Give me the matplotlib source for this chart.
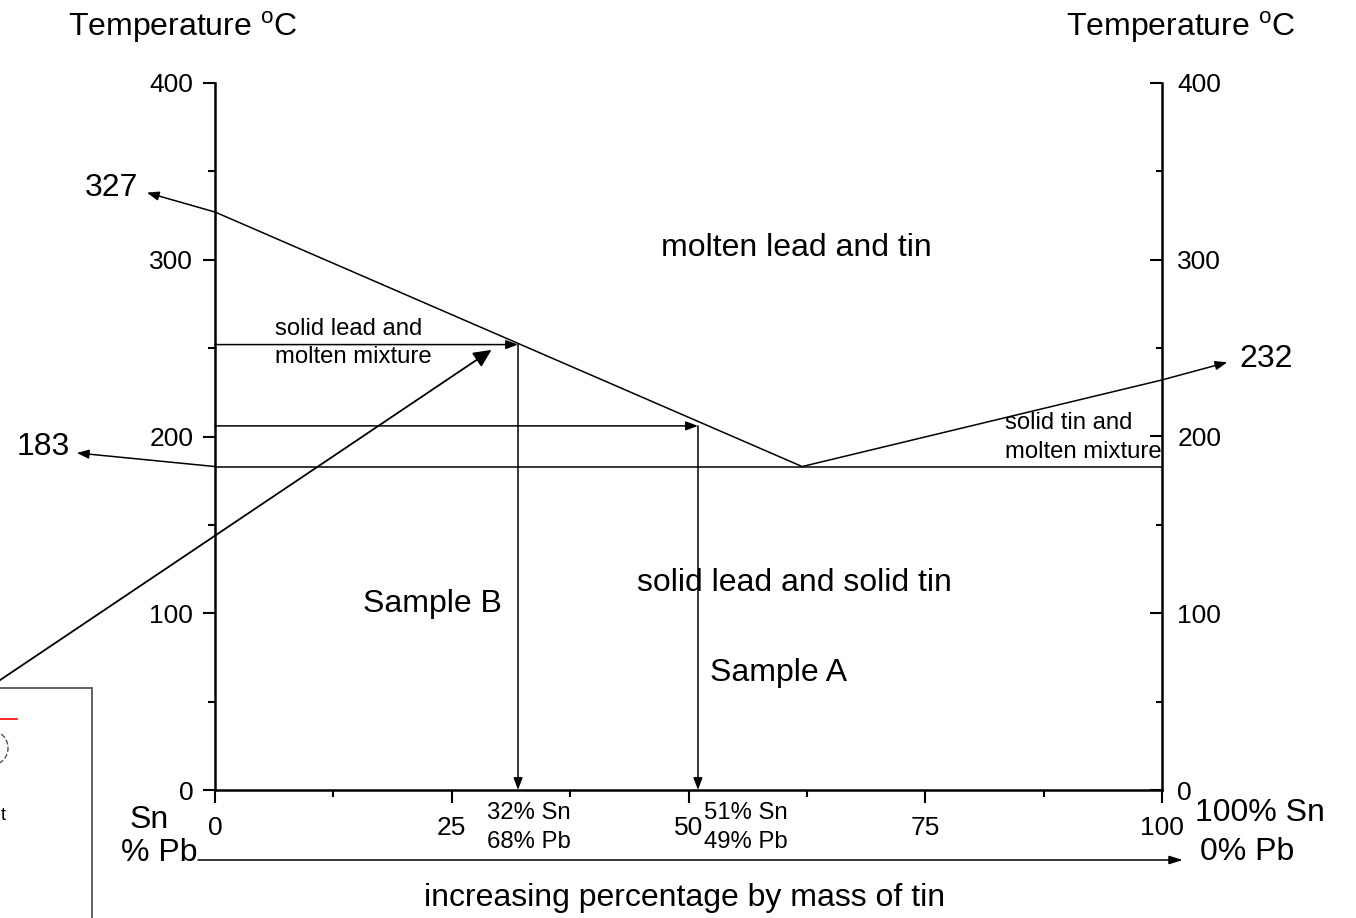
import numpy as np
import matplotlib
matplotlib.use('Agg')
import matplotlib.pyplot as plt
from matplotlib.patches import Rectangle, Ellipse
from matplotlib.lines import Line2D

plt.rcParams['font.family'] = ['Liberation Sans', 'DejaVu Sans']
plt.rcParams['mathtext.fontset'] = 'custom'
plt.rcParams['mathtext.rm'] = 'Liberation Sans'

# liquidus of the lead-tin system: pure Pb -> eutectic -> pure Sn
liq_sn = [0, 62, 100]
liq_t = [327, 183, 232]
eutectic_t = 183

# the two cooled samples: % tin, temperature where solid starts to form
sample_names = ['Sample B', 'Sample A']
sample_sn = [32, 51]
sample_pb = [68, 49]
sample_t = [252, 206]

x_ticks = [0, 25, 50, 75, 100]
y_ticks = [0, 100, 200, 300, 400]

BIG = 23
MID = 19
SMALL = 17.2

W, H = 1356, 918
fig = plt.figure(figsize=(W / 100, H / 100), dpi=100)
ax = fig.add_axes([215 / W, 128 / H, 947 / W, 707 / H])
ax.set_xlim(0, 100)
ax.set_ylim(0, 400)
ax.spines['top'].set_visible(False)
ax.spines['right'].set_visible(False)
for s in ('left', 'bottom'):
    ax.spines[s].set_linewidth(1.8)

ax.set_xticks(x_ticks)
ax.set_xticks(np.arange(12.5, 100, 25), minor=True)
ax.set_yticks(y_ticks)
ax.set_yticks(np.arange(50, 400, 100), minor=True)
ax.tick_params(axis='both', which='major', direction='out', width=1.5, labelsize=MID)
ax.tick_params(axis='x', which='major', length=9.5, pad=9)
ax.tick_params(axis='x', which='minor', length=5, width=1.5)
ax.tick_params(axis='y', which='major', length=8.6, pad=7)
ax.tick_params(axis='y', which='minor', length=5, width=1.5, direction='out')

# right hand temperature scale, ticks pointing into the plot
ax2 = ax.twinx()
ax2.set_ylim(0, 400)
for s in ('top', 'left', 'bottom'):
    ax2.spines[s].set_visible(False)
ax2.spines['right'].set_linewidth(1.8)
ax2.set_yticks(y_ticks)
ax2.set_yticks(np.arange(50, 400, 100), minor=True)
ax2.tick_params(axis='y', which='major', direction='in', length=8.6, width=1.5,
                labelsize=MID, pad=11)
ax2.tick_params(axis='y', which='minor', direction='in', length=4.5, width=1.5)

lw = 1.1
ax.plot(liq_sn, liq_t, color='k', lw=lw, clip_on=False)
ax.plot([0, 100], [eutectic_t, eutectic_t], color='k', lw=lw, clip_on=False)

small_head = dict(arrowstyle='-|>,head_length=0.4,head_width=0.15', color='k',
                  lw=lw, mutation_scale=18, shrinkA=0, shrinkB=0)
big_head = dict(arrowstyle='-|>,head_length=0.4,head_width=0.19', color='k',
                lw=1.3, mutation_scale=27, shrinkA=0, shrinkB=0)

# each sample: across to the liquidus, then down to its composition
for sn, t in zip(sample_sn, sample_t):
    ax.annotate('', xy=(sn, t), xytext=(0, t), arrowprops=small_head,
                annotation_clip=False)
    ax.annotate('', xy=(sn, 0), xytext=(sn, t), arrowprops=small_head,
                annotation_clip=False)

# melting point call-outs
ax.annotate('', xy=(-7.2, 338), xytext=(0, liq_t[0]), arrowprops=small_head,
            annotation_clip=False)
ax.text(-8.1, 340.6, str(liq_t[0]), fontsize=BIG, ha='right', va='center')
ax.annotate('', xy=(-14.6, 190.7), xytext=(0, eutectic_t), arrowprops=small_head,
            annotation_clip=False)
ax.text(-15.3, 194, str(liq_t[1]), fontsize=BIG, ha='right', va='center')
ax.annotate('', xy=(106.9, 242), xytext=(100, liq_t[2]), arrowprops=small_head,
            annotation_clip=False)
ax.text(108.2, 243.8, str(liq_t[2]), fontsize=BIG, ha='left', va='center')

# long pointer into the two-phase region
ax.annotate('', xy=(29.2, 249), xytext=(-29, 39.5), arrowprops=big_head,
            annotation_clip=False)

# region labels
ax.text(61.4, 306.6, 'molten lead and tin', fontsize=BIG, ha='center', va='center')
ax.text(61.2, 117, 'solid lead and solid tin', fontsize=BIG, ha='center', va='center')
ax.text(6.3, 252.8, 'solid lead and\nmolten mixture', fontsize=SMALL,
        ha='left', va='center', linespacing=1.39)
ax.text(83.4, 199.6, 'solid tin and\nmolten mixture', fontsize=SMALL,
        ha='left', va='center', linespacing=1.39)
ax.text(23.0, 105, sample_names[0], fontsize=BIG, ha='center', va='center')
ax.text(59.5, 66.2, sample_names[1], fontsize=BIG, ha='center', va='center')

# compositions under the axis
comp_x = [28.7, 51.6]
for x, sn, pb in zip(comp_x, sample_sn, sample_pb):
    ax.text(x, -21.3, f'{sn}% Sn\n{pb}% Pb', fontsize=SMALL, ha='left', va='center',
            linespacing=1.39, clip_on=False)

ax.text(-9.0, -16.8, 'Sn', fontsize=BIG, ha='left', va='center')
ax.text(-1.8, -35.8, '% Pb', fontsize=BIG, ha='right', va='center')
ax.text(103.5, -13, '100% Sn', fontsize=BIG, ha='left', va='center')
ax.text(104.0, -35.3, '0% Pb', fontsize=BIG, ha='left', va='center')
ax.annotate('', xy=(102.2, -39.6), xytext=(-1.8, -39.6),
            arrowprops=dict(small_head, arrowstyle='-|>,head_length=0.45,head_width=0.14'),
            annotation_clip=False)
ax.text(49.6, -61.1, 'increasing percentage by mass of tin', fontsize=BIG,
        ha='center', va='center')

fig.text(183 / W, 1 - 27 / H, r'Temperature $^{\mathrm{o}}$C', fontsize=BIG,
         ha='center', va='center')
fig.text(1181 / W, 1 - 27 / H, r'Temperature $^{\mathrm{o}}$C', fontsize=BIG,
         ha='center', va='center')

# edge of a pasted picture in the lower left corner
fig.patches.append(Rectangle((-10 / W, -10 / H), 102 / W, (240) / H,
                             transform=fig.transFigure, fill=False,
                             ec='#555555', lw=1.3))
fig.lines.append(Line2D([0, 17 / W], [1 - 719 / H] * 2, color='red', lw=1.2,
                        transform=fig.transFigure))
fig.patches.append(Ellipse((-8 / W, 1 - 748 / H), 32 / W, 34 / H,
                           transform=fig.transFigure, fill=False,
                           ec='#555555', lw=1, ls='--'))
fig.text(3 / W, 1 - 815 / H, 't', fontsize=13, ha='center', va='center')

fig.savefig('out.png', dpi=100)
